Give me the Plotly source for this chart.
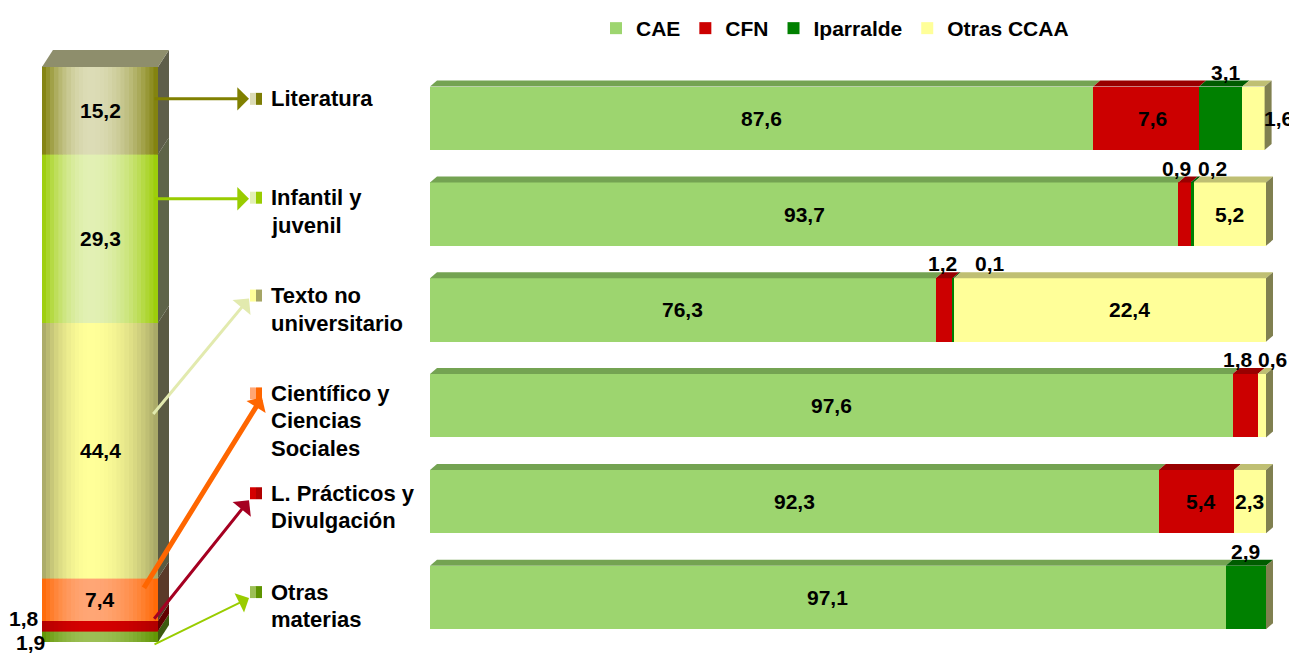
import math
import plotly.graph_objects as go

VW, VH = 1297, 654
OFF = 8            # the page body margin shifts the figure by 8 px
W, H = VW - OFF, VH - OFF
FONT = "Liberation Sans"
FS = 21

# ------------------------------------------------------------------ data
categories = ["Literatura", "Infantil y juvenil", "Texto no universitario",
              "Científico y Ciencias Sociales", "L. Prácticos y Divulgación", "Otras materias"]
category_lines = [["Literatura"], ["Infantil y", "juvenil"], ["Texto no", "universitario"],
                  ["Científico y", "Ciencias", "Sociales"], ["L. Prácticos y", "Divulgación"],
                  ["Otras", "materias"]]
share_total = [15.2, 29.3, 44.4, 7.4, 1.8, 1.9]          # left column, same order as categories

series_names = ["CAE", "CFN", "Iparralde", "Otras CCAA"]
cae = [87.6, 93.7, 76.3, 97.6, 92.3, 97.1]
cfn = [7.6, 0.9, 1.2, 1.8, 5.4, 0.0]
iparralde = [3.1, 0.2, 0.1, 0.0, 0.0, 2.9]
otras_ccaa = [1.6, 5.2, 22.4, 0.6, 2.3, 0.0]
series_values = [cae, cfn, iparralde, otras_ccaa]

# ------------------------------------------------------------------ style
series_colors = ["#9dd56f", "#cc0000", "#008000", "#ffff99"]
series_top = ["#74a352", "#990000", "#005c00", "#bfbf73"]
side_color = "#808050"

seg_edge = ["#7d7d05", "#99cc00", "#a5a565", "#ff6600", "#b00000", "#5e9400"]
seg_center = ["#dcdcb6", "#e2f0b4", "#ffff99", "#ffa675", "#d40000", "#9cbf55"]
seg_side = ["#5e5e4a", "#5e6448", "#5a5a42", "#5a3a28", "#600000", "#3d5a10"]

arrow_colors = ["#808000", "#99cc00", "#e2eaae", "#ff6600", "#a50021", "#99cc00"]
arrow_widths = [3, 3, 3, 5, 3, 2]
arrow_sizes = [1.3, 1.3, 1.3, 0.75, 1.3, 1.8]
arrow_start = [(153, 98), (153, 198), (152, 415), (143, 589), (153, 620), (153, 645)]
arrow_tip = [(249, 98), (249, 198), (249, 298), (262, 397), (249, 500), (249, 598)]
label_first_y = [98, 197, 295, 393, 493, 592]
LINE_H = 27.5

# label placement on the right bars: (mode, xshift) per row / series
placement = [
    [("in", 0), ("in", 6), ("above", 5), ("right", 0)],
    [("in", 0), ("above", -8), ("above", 20), ("in", 0)],
    [("in", 0), ("above", -2), ("above", 37), ("in", 20)],
    [("in", 0), ("above", -7), None, ("above", 11)],
    [("in", 0), ("in", 5), None, ("in", 0)],
    [("in", 0), None, ("above", 0), None],
]


def fmt(v):
    return f"{v:.1f}".replace(".", ",")


def mix(c1, c2, t):
    a = [int(c1[i:i + 2], 16) for i in (1, 3, 5)]
    b = [int(c2[i:i + 2], 16) for i in (1, 3, 5)]
    return "#%02x%02x%02x" % tuple(round(a[k] + (b[k] - a[k]) * t) for k in range(3))


def px(x):
    return (x - OFF) / W


def py(y):
    return 1 - (y - OFF) / H


# ------------------------------------------------------------------ geometry of the two plot areas
XMIN, XMAX = 40, 101
RX0 = 430
PPU = 836 / 60.0                       # pixels per percentage unit
RX1 = RX0 + (XMAX - XMIN) * PPU
ROW0, PITCH = 117.4, 96.0
RY_TOP, RY_BOT = ROW0 - PITCH / 2, ROW0 + 5.5 * PITCH
BW = 63.5 / PITCH
DX_R = 7 / PPU
DY_R = 6 / PITCH

N = 28
CX0, CX1 = 42, 158
CY_TOP, CY_BOT = 66, 642
CPPU = (CY_BOT - CY_TOP) / 100.0
DXC_PX, DYC_PX = 11, 17
DXC = DXC_PX * N / (CX1 - CX0)
DYC = DYC_PX / CPPU

fig = go.Figure()

# ------------------------------------------------------------------ right stacked bars
rows = list(range(len(categories)))
for s, name in enumerate(series_names):
    fig.add_trace(go.Bar(
        orientation="h", y=rows, x=series_values[s], name=name, width=BW,
        marker=dict(color=series_colors[s], line=dict(width=0)),
        xaxis="x", yaxis="y", hoverinfo="x+name",
    ))

# ------------------------------------------------------------------ left column (gradient via sub-columns)
stack_order = list(range(len(categories)))[::-1]     # bottom -> top
xs = list(range(N))
for ci in stack_order:
    cols = []
    for k in xs:
        pos = (k + 0.5) / N
        d = (0.42 - pos) / 0.42 if pos < 0.42 else (pos - 0.42) / 0.58
        t = max(0.0, 1 - d ** 2)
        cols.append(mix(seg_edge[ci], seg_center[ci], t))
    fig.add_trace(go.Bar(
        x=xs, y=[share_total[ci]] * N, width=1, showlegend=False,
        marker=dict(color=cols, line=dict(color=cols, width=0.6)),
        xaxis="x2", yaxis="y2", hoverinfo="skip",
    ))

shapes = []
annotations = []
num_font = dict(family=FONT, size=FS, color="black", weight="bold")

# 3D faces of right bars
for r in rows:
    top = r - BW / 2
    bot = r + BW / 2
    start = 0.0
    for s in range(len(series_names)):
        v = series_values[s][r]
        end = start + v
        xa, xb = max(start, XMIN), end
        if v > 0 and xb > xa:
            shapes.append(dict(
                type="path", xref="x", yref="y", layer="above",
                path=f"M{xa},{top} L{xb},{top} L{xb + DX_R},{top - DY_R} L{xa + DX_R},{top - DY_R} Z",
                fillcolor=series_top[s], line=dict(width=0)))
        start = end
    total = start
    shapes.append(dict(
        type="path", xref="x", yref="y", layer="above",
        path=f"M{total},{top} L{total + DX_R},{top - DY_R} L{total + DX_R},{bot - DY_R} L{total},{bot} Z",
        fillcolor=side_color, line=dict(width=0)))

# right bar labels
for r in rows:
    start = 0.0
    for s in range(len(series_names)):
        v = series_values[s][r]
        end = start + v
        p = placement[r][s]
        if p is not None and v > 0:
            mode, xs_ = p
            if mode == "in":
                xc = (max(start, XMIN) + end) / 2
                annotations.append(dict(x=xc, y=r, xref="x", yref="y", text=fmt(v), showarrow=False,
                                        xshift=xs_, font=num_font))
            elif mode == "above":
                xc = (start + end) / 2
                annotations.append(dict(x=xc, y=r, xref="x", yref="y", text=fmt(v), showarrow=False,
                                        xshift=xs_, yshift=46, font=num_font))
            else:
                annotations.append(dict(x=end, y=r, xref="x", yref="y", text=fmt(v), showarrow=False,
                                        xshift=14, xanchor="center", font=num_font))
        start = end

# column 3D faces + labels
XR = N - 0.5
cum = 0.0
for ci in stack_order:
    y0, y1 = cum, cum + share_total[ci]
    shapes.append(dict(
        type="path", xref="x2", yref="y2", layer="above",
        path=f"M{XR},{y0} L{XR + DXC},{y0 + DYC} L{XR + DXC},{y1 + DYC} L{XR},{y1} Z",
        fillcolor=seg_side[ci], line=dict(width=0)))
    mid = (y0 + y1) / 2
    if share_total[ci] >= 5:
        annotations.append(dict(x=(N - 1) / 2, y=mid, xref="x2", yref="y2", text=fmt(share_total[ci]),
                                showarrow=False, font=num_font))
    cum = y1
shapes.append(dict(
    type="path", xref="x2", yref="y2", layer="above",
    path=f"M-0.5,100 L{XR},100 L{XR + DXC},{100 + DYC} L{-0.5 + DXC},{100 + DYC} Z",
    fillcolor="#8e8e6c", line=dict(width=0)))

# small column values outside to the left
small_shift = {4: (0, 7), 5: (6, -6)}
cum = 0.0
for ci in stack_order:
    y0, y1 = cum, cum + share_total[ci]
    if share_total[ci] < 5:
        xsh, ysh = small_shift[ci]
        annotations.append(dict(x=-0.5, y=(y0 + y1) / 2, xref="x2", yref="y2", text=fmt(share_total[ci]),
                                showarrow=False, xanchor="right", xshift=-1 + xsh, yshift=ysh,
                                font=num_font))
    cum = y1

# category labels, squares and arrows
for i, lines in enumerate(category_lines):
    y_first = label_first_y[i]
    for j, line in enumerate(lines):
        annotations.append(dict(x=px(269), y=py(y_first + j * LINE_H), xref="paper", yref="paper",
                                text=line, showarrow=False, xanchor="left", yanchor="middle",
                                font=dict(family=FONT, size=22, color="black", weight="bold")))
    shapes.append(dict(type="rect", xref="paper", yref="paper", x0=px(250), x1=px(256),
                       y0=py(y_first - 6), y1=py(y_first + 6), fillcolor=seg_center[i], line=dict(width=0)))
    shapes.append(dict(type="rect", xref="paper", yref="paper", x0=px(256), x1=px(262),
                       y0=py(y_first - 6), y1=py(y_first + 6), fillcolor=seg_edge[i], line=dict(width=0)))
    (sx, sy), (tx, ty) = arrow_start[i], arrow_tip[i]
    annotations.append(dict(x=px(tx), y=py(ty), xref="paper", yref="paper", text="",
                            showarrow=True, axref="pixel", ayref="pixel", ax=sx - tx, ay=sy - ty,
                            arrowhead=1, arrowsize=arrow_sizes[i], arrowwidth=arrow_widths[i],
                            arrowcolor=arrow_colors[i], standoff=0, startstandoff=0))

fig.update_layout(
    width=W, height=H,
    margin=dict(l=0, r=0, t=0, b=0),
    paper_bgcolor="white", plot_bgcolor="rgba(0,0,0,0)",
    barmode="stack",
    font=dict(family=FONT, size=FS, color="black"),
    showlegend=True,
    legend=dict(orientation="h", x=px(835), xanchor="center", y=py(28), yanchor="middle",
                font=dict(family=FONT, size=FS, color="black", weight="bold"),
                itemwidth=30, traceorder="normal", bgcolor="rgba(0,0,0,0)"),
    xaxis=dict(domain=[px(RX0), px(RX1)], range=[XMIN, XMAX], visible=False, fixedrange=True),
    yaxis=dict(domain=[py(RY_BOT), py(RY_TOP)], range=[5.5, -0.5], visible=False, fixedrange=True),
    xaxis2=dict(domain=[px(CX0), px(CX1 + DXC_PX)], range=[-0.5, N - 0.5 + DXC], visible=False,
                anchor="y2", fixedrange=True),
    yaxis2=dict(domain=[py(CY_BOT), py(CY_TOP - DYC_PX)], range=[0, 100 + DYC], visible=False,
                anchor="x2", fixedrange=True),
    shapes=shapes,
    annotations=annotations,
)

fig.write_html("out.html")
